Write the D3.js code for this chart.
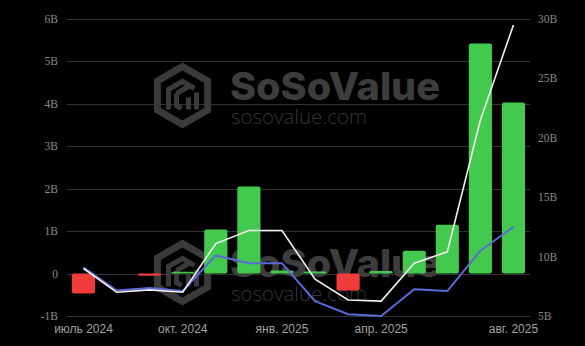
<!DOCTYPE html>
<html>
<head>
<meta charset="utf-8">
<script src="https://cdn.jsdelivr.net/npm/d3@7"></script>
<style>
  html, body { margin: 0; padding: 0; background: #000; }
  svg { display: block; }
</style>
</head>
<body>
<svg width="585" height="346"></svg>
<script>
// monthly data, Jul 2024 .. Aug 2025
const months = ["2024-07","2024-08","2024-09","2024-10","2024-11","2024-12","2025-01",
                "2025-02","2025-03","2025-04","2025-05","2025-06","2025-07","2025-08"];
const netFlow = [-0.47, 0, -0.05, 0.04, 1.04, 2.05, 0.07, 0.05, -0.40, 0.06, 0.54, 1.15, 5.42, 4.03];
const totalAssets = [9.0, 7.0, 7.2, 7.0, 11.1, 12.2, 12.2, 8.1, 6.35, 6.25, 9.45, 10.4, 21.5, 29.5];
const cumInflow = [9.1, 7.15, 7.35, 7.1, 10.1, 9.45, 9.45, 6.25, 5.15, 5.0, 7.25, 7.1, 10.5, 12.5];

const leftTicks = [-1, 0, 1, 2, 3, 4, 5, 6];
const rightTicks = [5, 10, 15, 20, 25, 30];
const xTicks = ["2024-07", "2024-10", "2025-01", "2025-04", "2025-08"];
const xTickLabels = ["июль 2024", "окт. 2024", "янв. 2025", "апр. 2025", "авг. 2025"];

const svg = d3.select("svg"),
    width = +svg.attr("width"),
    height = +svg.attr("height");

const x = d3.scaleBand().domain(months).range([67, 530]).paddingInner(0.3).paddingOuter(0.15);
const yL = d3.scaleLinear().domain([-1, 6]).range([316, 19]);
const yR = d3.scaleLinear().domain([5, 30]).range([316, 19]);
const cx = m => x(m) + x.bandwidth() / 2;

// grid
svg.append("g").selectAll("line").data(leftTicks).join("line")
    .attr("x1", 67).attr("x2", 530)
    .attr("y1", d => Math.round(yL(d)) + 0.5).attr("y2", d => Math.round(yL(d)) + 0.5)
    .attr("stroke", "#333").attr("stroke-width", 1);

// watermarks
function watermark(dy) {
    const g = svg.append("g").attr("transform", `translate(0,${dy})`);
    const wm = "#3a3a3a";
    const r = 29, hx = 182.5, hy = 95.5;
    const hex = d3.range(6).map(i => {
        const a = (Math.PI / 180) * (60 * i - 90);
        return [hx + r * Math.cos(a), hy + r * Math.sin(a)];
    });
    g.append("path").attr("d", d3.line()(hex) + "Z")
        .attr("fill", "none").attr("stroke", wm).attr("stroke-width", 7)
        .attr("stroke-linejoin", "miter");
    g.append("path")
        .attr("d", `M${hx - 14},${hy + 14} L${hx - 14},${hy - 6} L${hx},${hy - 14} L${hx + 12},${hy - 7}
                    M${hx - 6},${hy - 2} L${hx + 6},${hy - 9}
                    M${hx - 6},${hy - 2} L${hx - 6},${hy + 10} L${hx - 1},${hy + 13}
                    M${hx + 14},${hy - 3} L${hx + 14},${hy + 14}
                    M${hx + 6},${hy + 2} L${hx + 6},${hy + 14}`)
        .attr("fill", "none").attr("stroke", wm).attr("stroke-width", 5);
    g.append("text").attr("x", 230).attr("y", 100)
        .attr("font-family", "Inter, 'Noto Sans', sans-serif").attr("font-weight", 800)
        .attr("font-size", 38).attr("fill", "#3d3d3d")
        .attr("textLength", 210).attr("lengthAdjust", "spacingAndGlyphs")
        .text("SoSoValue");
    g.append("text").attr("x", 231).attr("y", 124)
        .attr("font-family", "'Open Sans', sans-serif").attr("font-weight", 300)
        .attr("font-size", 21).attr("fill", "#353535")
        .attr("textLength", 136).attr("lengthAdjust", "spacingAndGlyphs")
        .text("sosovalue.com");
}
watermark(0);
watermark(177);

// bars
svg.append("g").selectAll("rect").data(months).join("rect")
    .attr("x", m => x(m))
    .attr("width", x.bandwidth())
    .attr("y", (m, i) => yL(Math.max(0, netFlow[i])))
    .attr("height", (m, i) => Math.abs(yL(netFlow[i]) - yL(0)))
    .attr("rx", 2)
    .attr("fill", (m, i) => netFlow[i] >= 0 ? "#44c94f" : "#f23b3b");

// lines
const line = d3.line().x(d => cx(d[0])).y(d => yR(d[1]));
svg.append("path").datum(months.map((m, i) => [m, cumInflow[i]]))
    .attr("d", line).attr("fill", "none").attr("stroke", "#5a6bd6").attr("stroke-width", 2);
svg.append("path").datum(months.map((m, i) => [m, totalAssets[i]]))
    .attr("d", line).attr("fill", "none").attr("stroke", "#f0f0f0").attr("stroke-width", 1.6);

// left axis labels
svg.append("g").selectAll("text").data(leftTicks).join("text")
    .attr("x", 58).attr("y", d => yL(d) + 4)
    .attr("text-anchor", "end")
    .attr("font-family", "'Liberation Serif', serif").attr("font-size", 11.5)
    .attr("fill", "#8a8a8a")
    .text(d => d === 0 ? "0" : d + "B");

// right axis labels
svg.append("g").selectAll("text").data(rightTicks).join("text")
    .attr("x", 538).attr("y", d => yR(d) + 4)
    .attr("font-family", "'Liberation Serif', serif").attr("font-size", 11.5)
    .attr("fill", "#8a8a8a")
    .text(d => d + "B");

// x labels
svg.append("g").selectAll("text").data(xTicks).join("text")
    .attr("x", d => cx(d)).attr("y", 333)
    .attr("text-anchor", "middle")
    .attr("font-family", "'Liberation Sans', Arial, sans-serif").attr("font-size", 12)
    .attr("fill", "#a0a0a0")
    .text((d, i) => xTickLabels[i]);
</script>
</body>
</html>
